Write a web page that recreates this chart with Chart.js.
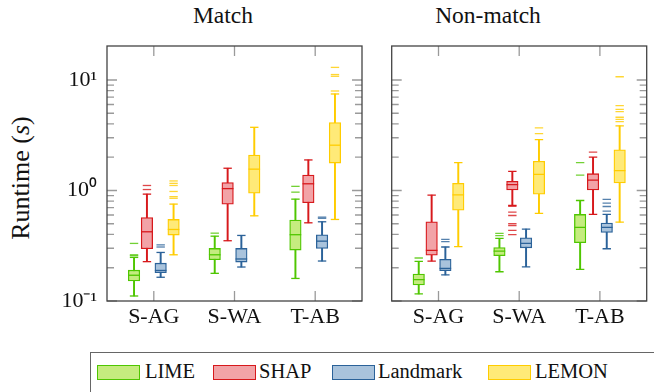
<!DOCTYPE html>
<html>
<head>
<meta charset="utf-8">
<script src="https://cdn.jsdelivr.net/npm/chart.js@4.4.1/dist/chart.umd.min.js"></script>
<style>
  html, body { margin: 0; padding: 0; background: #fff; }
  body { width: 654px; height: 392px; position: relative; overflow: hidden; color: #111; font-family: "Liberation Serif", serif; }
  canvas { position: absolute; top: 0; }
  #c1 { left: 0; }
  #c2 { left: 380px; }
  .panel-title { position: absolute; top: 4px; width: 140px; text-align: center; font-size: 23.5px; line-height: 23.5px; }
  #ytitle { position: absolute; left: 21px; top: 178px; transform: translate(-50%, -50%) rotate(-90deg); font-size: 26px; line-height: 26px; white-space: nowrap; }
  #legend { position: absolute; left: 90px; top: 352px; width: 620px; height: 60px; border: 1.3px solid #666; box-sizing: border-box; }
  .sw { position: absolute; top: 365px; width: 43px; height: 15px; box-sizing: border-box; border: 1.3px solid; }
  .lt { position: absolute; top: 361px; font-size: 20.5px; line-height: 20.5px; white-space: nowrap; }
</style>
</head>
<body>
<div class="panel-title" style="left:153px">Match</div>
<div class="panel-title" style="left:418px">Non-match</div>
<div id="ytitle">Runtime (<i>s</i>)</div>
<canvas id="c1" width="375" height="345"></canvas>
<canvas id="c2" width="274" height="345"></canvas>
<div id="legend"></div>
<div id="legend-items"></div>
<script>
// categories, methods and tick labels
const categories = ['S-AG', 'S-WA', 'T-AB'];
const methods = ['LIME', 'SHAP', 'Landmark', 'LEMON'];
const yTickValues = [0.1, 1, 10];
const yTickLabels = ['10⁻¹', '10⁰', '10¹'];
const yMinorTicks = [0.2, 0.3, 0.4, 0.5, 0.6, 0.7, 0.8, 0.9, 2, 3, 4, 5, 6, 7, 8, 9];

// box stats per category: [min whisker, q1, median, q3, max whisker]
// Match
const limeMatch  = [[0.111, 0.152, 0.171, 0.19, 0.248], [0.178, 0.236, 0.262, 0.299, 0.386], [0.16, 0.289, 0.398, 0.54, 0.835]];
const shapMatch  = [[0.227, 0.297, 0.423, 0.57, 0.927], [0.351, 0.753, 1.04, 1.18, 1.59], [0.51, 0.774, 1.15, 1.38, 1.89]];
const landMatch  = [[0.164, 0.18, 0.189, 0.22, 0.275], [0.203, 0.225, 0.24, 0.299, 0.392], [0.23, 0.299, 0.348, 0.398, 0.521]];
const lemonMatch = [[0.262, 0.395, 0.444, 0.547, 0.753], [0.59, 0.946, 1.56, 2.09, 3.73], [0.547, 1.77, 2.57, 4.12, 7.47]];
const limeMatchOut  = [[0.257, 0.262, 0.332], [0.411], [0.966, 1.09]];
const shapMatchOut  = [[1.02, 1.11], [], []];
const landMatchOut  = [[0.308, 0.322], [], [0.56, 0.574]];
const lemonMatchOut = [[0.85, 0.88, 0.98, 1.11, 1.16, 1.22], [], [7.95, 10.8, 11.2, 13.0]];

// Non-match
const limeNon  = [[0.116, 0.14, 0.156, 0.175, 0.228], [0.184, 0.257, 0.283, 0.305, 0.368], [0.193, 0.337, 0.463, 0.607, 0.812]];
const shapNon  = [[0.23, 0.26, 0.287, 0.521, 0.908], [0.732, 1.01, 1.13, 1.21, 1.49], [0.607, 1.01, 1.24, 1.42, 2.0]];
const landNon  = [[0.172, 0.188, 0.197, 0.238, 0.308], [0.204, 0.303, 0.332, 0.373, 0.448], [0.297, 0.417, 0.463, 0.507, 0.607]];
const lemonNon = [[0.31, 0.664, 0.914, 1.16, 1.79], [0.62, 0.927, 1.4, 1.84, 2.89], [0.518, 1.17, 1.51, 2.33, 3.84]];
const limeNonOut  = [[0.245], [0.39, 0.409], [1.38, 1.79]];
const shapNonOut  = [[], [0.398, 0.435, 0.48, 0.5, 0.594, 0.637, 0.72], [2.22]];
const landNonOut  = [[0.344, 0.361], [], [0.65, 0.716, 0.768, 0.83]];
const lemonNonOut = [[], [3.27, 3.68], [4.2, 4.4, 4.6, 5.17, 5.43, 5.86, 10.7]];

const strokes = ['#4fc601', '#d7191c', '#2b6299', '#ffcc00'];
const fills   = ['#c5ec7f', '#f2a3a7', '#a9c3dc', '#ffea78'];
const outColors = ['rgba(79,198,1,0.8)', 'rgba(215,25,28,0.8)', 'rgba(43,98,153,0.8)', 'rgba(255,204,0,0.8)'];
const offsets = [-0.245, -0.085, 0.085, 0.245];
const FONT = '"Liberation Serif", serif';
Chart.defaults.font.family = FONT;

function buildDatasets(stats, outs) {
  const ds = [];
  stats.forEach((s, k) => {
    const xs = categories.map((c, i) => i + 1 + offsets[k]);
    ds.push({ type: 'bar', label: methods[k] + ' whisker', grouped: false, order: 3,
      data: s.map((b, i) => ({ x: xs[i], y: [b[0], b[4]] })),
      backgroundColor: strokes[k], borderWidth: 0, barThickness: 1.3, maxBarThickness: 1.3 });
    ds.push({ type: 'bar', label: methods[k], grouped: false, order: 2,
      data: s.map((b, i) => ({ x: xs[i], y: [b[1], b[3]] })),
      backgroundColor: fills[k], borderColor: strokes[k], borderWidth: 1.3, borderSkipped: false,
      barThickness: 11.5, maxBarThickness: 11.5 });
    ds.push({ type: 'scatter', label: methods[k] + ' median', order: 1,
      data: s.map((b, i) => ({ x: xs[i], y: b[2] })),
      pointStyle: 'line', pointRadius: 5.8, borderColor: strokes[k], borderWidth: 1.3 });
    ds.push({ type: 'scatter', label: methods[k] + ' caps', order: 1,
      data: s.flatMap((b, i) => [{ x: xs[i], y: b[0] }, { x: xs[i], y: b[4] }]),
      pointStyle: 'line', pointRadius: 4.2, borderColor: strokes[k], borderWidth: 1.3 });
    ds.push({ type: 'scatter', label: methods[k] + ' outliers', order: 0,
      data: outs[k].flatMap((o, i) => o.map(v => ({ x: xs[i], y: v }))),
      pointStyle: 'line', pointRadius: 4.2, borderColor: outColors[k], borderWidth: 1.3 });
  });
  return ds;
}

const framePlugin = {
  id: 'frame',
  beforeDatasetsDraw(chart) {
    const { ctx, chartArea: a, scales } = chart;
    ctx.save();
    ctx.strokeStyle = '#9a9a9a';
    ctx.lineWidth = 1.3;
    ctx.beginPath();
    [1, 2, 3].forEach(v => {
      const px = scales.x.getPixelForValue(v);
      ctx.moveTo(px, a.bottom); ctx.lineTo(px, a.bottom - 10);
      ctx.moveTo(px, a.top); ctx.lineTo(px, a.top + 10);
    });
    yTickValues.forEach(v => {
      const py = scales.y.getPixelForValue(v);
      ctx.moveTo(a.left, py); ctx.lineTo(a.left + 10, py);
      ctx.moveTo(a.right, py); ctx.lineTo(a.right - 10, py);
    });
    yMinorTicks.forEach(v => {
      const py = scales.y.getPixelForValue(v);
      ctx.moveTo(a.left, py); ctx.lineTo(a.left + 7, py);
      ctx.moveTo(a.right, py); ctx.lineTo(a.right - 7, py);
    });
    ctx.stroke();
    ctx.restore();
  },
  afterDatasetsDraw(chart) {
    const { ctx, chartArea: a } = chart;
    ctx.save();
    ctx.strokeStyle = '#444';
    ctx.lineWidth = 1.3;
    ctx.strokeRect(a.left, a.top, a.right - a.left, a.bottom - a.top);
    ctx.restore();
  }
};

function makeChart(id, stats, outs, showY, padding) {
  return new Chart(document.getElementById(id), {
    type: 'bar',
    data: { datasets: buildDatasets(stats, outs) },
    plugins: [framePlugin],
    options: {
      responsive: false,
      animation: false,
      events: [],
      layout: { padding },
      plugins: { legend: { display: false }, tooltip: { enabled: false } },
      scales: {
        x: {
          type: 'linear', min: 0.42, max: 3.58, offset: false,
          afterBuildTicks: s => { s.ticks = [1, 2, 3].map(v => ({ value: v })); },
          afterFit: s => { s.height = 44; },
          grid: { display: false, drawTicks: false },
          border: { display: false },
          ticks: { autoSkip: false, maxRotation: 0, padding: 3, color: '#111',
            font: { family: FONT, size: 22 },
            callback: (v) => categories[Math.round(v) - 1] }
        },
        y: {
          type: 'logarithmic', min: 0.1, max: 20.3, stacked: false, display: showY,
          afterBuildTicks: s => { s.ticks = yTickValues.map(v => ({ value: v })); },
          afterFit: s => { s.width = showY ? 107 : 0; },
          grid: { display: false, drawTicks: false },
          border: { display: false },
          ticks: { padding: 10, color: '#111', font: { family: FONT, size: 22 },
            callback: (v, i) => yTickLabels[i] }
        }
      }
    }
  });
}

makeChart('c1', [limeMatch, shapMatch, landMatch, lemonMatch],
  [limeMatchOut, shapMatchOut, landMatchOut, lemonMatchOut], true,
  { top: 46, right: 13, left: 0, bottom: 0 });
makeChart('c2', [limeNon, shapNon, landNon, lemonNon],
  [limeNonOut, shapNonOut, landNonOut, lemonNonOut], false,
  { top: 46, right: 7.3, left: 11.7, bottom: 0 });

// legend
const swatchLeft = [97, 213, 332, 488];
const textLeft = [145, 259, 378, 535];
const items = document.getElementById('legend-items');
methods.forEach((m, k) => {
  const sw = document.createElement('div');
  sw.className = 'sw';
  sw.style.left = swatchLeft[k] + 'px';
  sw.style.background = fills[k];
  sw.style.borderColor = strokes[k];
  items.appendChild(sw);
  const t = document.createElement('div');
  t.className = 'lt';
  t.style.left = textLeft[k] + 'px';
  t.textContent = m;
  items.appendChild(t);
});
</script>
</body>
</html>
